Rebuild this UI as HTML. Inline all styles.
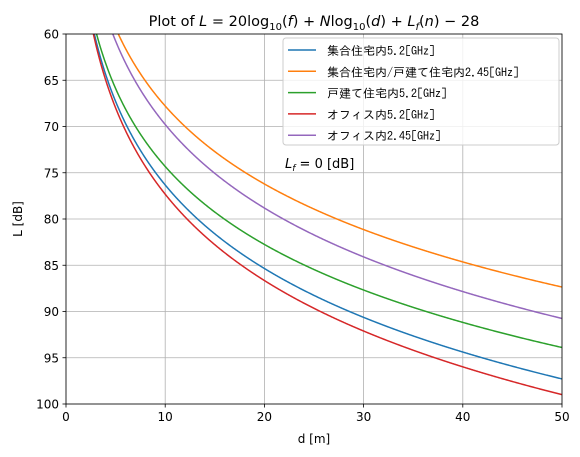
<!DOCTYPE html>
<html><head><meta charset="utf-8"><style>
html,body{margin:0;padding:0;background:#fff;}
svg{display:block;font-family:"DejaVu Sans","Liberation Sans",sans-serif;}
</style></head><body>
<svg id="chart" width="580" height="457" viewBox="0 0 580 457"></svg>
<script>
const seriesNames = ["集合住宅内5.2[GHz]","集合住宅内/戸建て住宅内2.45[GHz]","戸建て住宅内5.2[GHz]","オフィス内5.2[GHz]","オフィス内2.45[GHz]"];
const seriesFreqMHz = [5200, 2450, 5200, 5200, 2450];
const seriesN = [30, 28, 28, 31, 30];
const seriesColors = ["#1f77b4","#ff7f0e","#2ca02c","#d62728","#9467bd"];
const xTicks = [0,10,20,30,40,50];
const yTicks = [60,65,70,75,80,85,90,95,100];

const NS="http://www.w3.org/2000/svg";
const svg=document.getElementById('chart');
const L=66,R=562,T=34,B=404;
const xs=d=>L+(d-0)/(50-0)*(R-L);
const ys=v=>T+(v-60)/(100-60)*(B-T);
function mk(tag,attrs,parent){const e=document.createElementNS(NS,tag);for(const k in attrs)e.setAttribute(k,attrs[k]);(parent||svg).appendChild(e);return e;}

const defs=mk('defs',{});
const cp=mk('clipPath',{id:'clip'},defs);
mk('rect',{x:L,y:T,width:R-L,height:B-T},cp);

// grid
const grid=mk('g',{});


xTicks.forEach(t=>{mk('line',{x1:xs(t),x2:xs(t),y1:T,y2:B,stroke:'#b0b0b0','stroke-width':0.8},grid);});
yTicks.forEach(t=>{mk('line',{x1:L,x2:R,y1:ys(t),y2:ys(t),stroke:'#b0b0b0','stroke-width':0.8},grid);});

// curves
const curves=mk('g',{'clip-path':'url(#clip)'});
seriesNames.forEach((n,i)=>{
  let pts=[];
  for(let k=0;k<=1000;k++){const d=0.5+k*(49.5/1000);const v=20*Math.log10(seriesFreqMHz[i])+seriesN[i]*Math.log10(d)-28;pts.push(xs(d).toFixed(2)+','+ys(v).toFixed(2));}
  const p=mk('polyline',{points:pts.join(' '),fill:'none',stroke:seriesColors[i],'stroke-width':1.5},curves);
  
  
});

// frame
const frame=mk('rect',{x:L,y:T,width:R-L,height:B-T,fill:'none',stroke:'#000','stroke-width':0.8});



// ticks
xTicks.forEach(t=>{
  mk('line',{x1:xs(t),x2:xs(t),y1:B,y2:B+3.5,stroke:'#000','stroke-width':0.8});
  const tx=mk('text',{x:xs(t),y:B+17,'font-size':12,'text-anchor':'middle',fill:'#000'});
  tx.textContent=t;
  
  
});
yTicks.forEach(t=>{
  mk('line',{x1:L-3.5,x2:L,y1:ys(t),y2:ys(t),stroke:'#000','stroke-width':0.8});
  const tx=mk('text',{x:L-7,y:ys(t)+4.5,'font-size':12,'text-anchor':'end',fill:'#000'});
  tx.textContent=t;
  
  
});

// labels
const xl=mk('text',{x:(L+R)/2,y:443,'font-size':12,'text-anchor':'middle'});xl.textContent='d [m]';


const yl=mk('text',{x:22,y:(T+B)/2,'font-size':12,'text-anchor':'middle',transform:'rotate(-90 22 '+((T+B)/2)+')'});yl.textContent='L [dB]';


const ti=mk('text',{x:(L+R)/2,y:26,'font-size':14.5,'text-anchor':'middle'});
ti.innerHTML='Plot of <tspan font-style="italic">L</tspan> = 20log<tspan font-size="10" dy="4">10</tspan><tspan dy="-4">(</tspan><tspan font-style="italic">f</tspan>) + <tspan font-style="italic">N</tspan>log<tspan font-size="10" dy="4">10</tspan><tspan dy="-4">(</tspan><tspan font-style="italic">d</tspan>) + <tspan font-style="italic">L</tspan><tspan font-size="10" font-style="italic" dy="4">f</tspan><tspan dy="-4">(</tspan><tspan font-style="italic">n</tspan>) − 28';


const an=mk('text',{x:285,y:168,'font-size':13});
an.innerHTML='<tspan font-style="italic">L</tspan><tspan font-size="9" font-style="italic" dy="3">f</tspan><tspan dy="-3"> = 0 [dB]</tspan>';



// legend
const lg=mk('g',{});


mk('rect',{x:283,y:38,width:276,height:107,rx:3,fill:'#fff','fill-opacity':0.8,stroke:'#ccc','stroke-width':1},lg);
seriesNames.forEach((n,i)=>{
  const y=50+i*21.3;
  const en=mk('g',{},lg);
  
  
  mk('line',{x1:288,x2:316,y1:y,y2:y,stroke:seriesColors[i],'stroke-width':1.5},en);
  const tx=mk('text',{x:327,y:y+5,'font-size':12,'font-family':'"IPAGothic","Noto Sans CJK JP",monospace'},en);
  tx.textContent=n;
});
</script>
</body></html>
